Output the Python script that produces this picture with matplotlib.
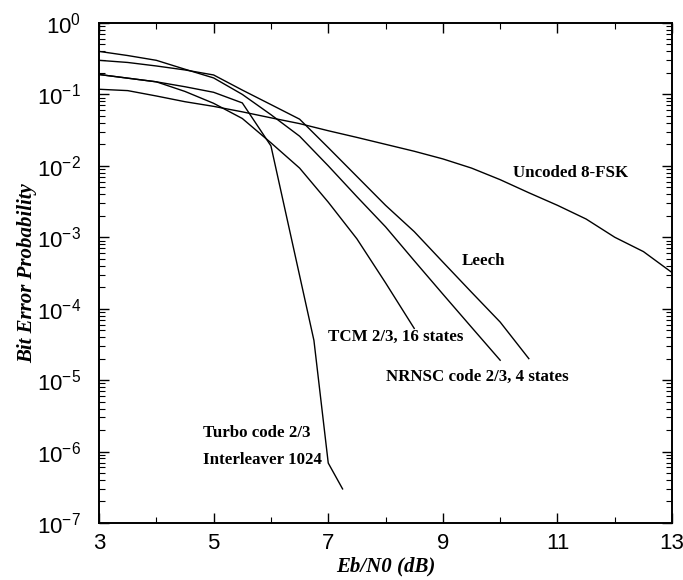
import matplotlib
matplotlib.use("Agg")
import matplotlib.pyplot as plt
from matplotlib.ticker import FixedLocator, NullFormatter, LogFormatterSciNotation

# ---- data (Eb/N0 in dB, bit error probability) ----
uncoded_x = [3.0, 3.5, 4.0, 4.5, 5.0, 5.5, 6.0, 6.5, 7.0, 7.5, 8.0, 8.5, 9.0,
             9.5, 10.0, 10.5, 11.0, 11.5, 12.0, 12.5, 13.0]
uncoded_y = [0.118, 0.113, 0.095, 0.079, 0.068, 0.057, 0.047, 0.039, 0.031,
             0.025, 0.020, 0.016, 0.0125, 0.0093, 0.0064, 0.0042, 0.0028,
             0.0018, 0.0010, 6.3e-4, 3.2e-4]

leech_x = [3.0, 3.5, 4.0, 4.5, 5.0, 5.5, 6.0, 6.5, 7.0, 7.5, 8.0, 8.5, 9.0,
           9.5, 10.0, 10.5]
leech_y = [0.30, 0.28, 0.25, 0.22, 0.187, 0.115, 0.072, 0.045, 0.018, 0.0071,
           0.0028, 0.0012, 4.5e-4, 1.7e-4, 6.5e-5, 2.0e-5]

nrnsc_x = [3.0, 3.5, 4.0, 4.5, 5.0, 5.5, 6.0, 6.5, 7.0, 7.5, 8.0, 8.5, 9.0,
           9.5, 10.0]
nrnsc_y = [0.40, 0.35, 0.30, 0.225, 0.17, 0.10, 0.052, 0.026, 0.010, 0.0037,
           0.0014, 4.7e-4, 1.6e-4, 5.5e-5, 1.9e-5]

tcm_x = [3.0, 4.0, 4.5, 5.0, 5.5, 6.0, 6.5, 7.0, 7.5, 8.0, 8.5]
tcm_y = [0.19, 0.15, 0.11, 0.075, 0.046, 0.021, 0.0093, 0.0031, 9.5e-4,
         2.3e-4, 5.3e-5]

turbo_x = [3.0, 4.0, 4.5, 5.0, 5.5, 6.0, 6.75, 7.0, 7.25]
turbo_y = [0.19, 0.15, 0.128, 0.107, 0.076, 0.019, 3.6e-5, 6.9e-7, 3.0e-7]

x_ticks = [3, 5, 7, 9, 11, 13]
x_minor = [4, 6, 8, 10, 12]
y_ticks = [1e-7, 1e-6, 1e-5, 1e-4, 1e-3, 1e-2, 1e-1, 1e0]
y_minor = [m * d for d in y_ticks[:-1] for m in range(2, 10)]

labels = {
    "Uncoded 8-FSK": (10.22, 0.0079),
    "Leech": (9.33, 4.7e-4),
    "TCM 2/3, 16 states": (7.0, 4.0e-5),
    "NRNSC code 2/3, 4 states": (8.01, 1.1e-5),
    "Turbo code 2/3": (4.815, 1.82e-6),
    "Interleaver 1024": (4.815, 7.6e-7),
}

fig = plt.figure(figsize=(6.83, 5.8), dpi=100)
ax = fig.add_axes([0.145, 0.0983, 0.839, 0.8621])

for xs, ys in [(uncoded_x, uncoded_y), (leech_x, leech_y), (nrnsc_x, nrnsc_y),
               (tcm_x, tcm_y), (turbo_x, turbo_y)]:
    ax.plot(xs, ys, color="black", lw=1.0)

ax.set_yscale("log")
ax.set_xlim(3, 13)
ax.set_ylim(1e-7, 1)
ax.xaxis.set_major_locator(FixedLocator(x_ticks))
ax.xaxis.set_minor_locator(FixedLocator(x_minor))
ax.yaxis.set_major_locator(FixedLocator(y_ticks))
ax.yaxis.set_major_formatter(LogFormatterSciNotation())
ax.yaxis.set_minor_locator(FixedLocator(y_minor))
ax.yaxis.set_minor_formatter(NullFormatter())
ax.xaxis.set_minor_formatter(NullFormatter())

ax.tick_params(which="both", direction="in", top=True, right=True,
               labelsize=16)
ax.tick_params(axis="x", which="both", pad=7)
ax.tick_params(axis="y", which="both", pad=13)
ax.tick_params(which="major", length=7, width=1.0)
ax.tick_params(which="minor", length=4, width=0.8)
for lab in ax.get_xticklabels() + ax.get_yticklabels():
    lab.set_fontfamily("Liberation Sans")
for s in ax.spines.values():
    s.set_linewidth(1.4)

serif_bold = dict(family="Liberation Serif", fontweight="bold", fontsize=12.2)
for txt, (x, y) in labels.items():
    ax.text(x, y, txt, ha="left", va="center", **serif_bold)

ax.set_xlabel("Eb/N0 (dB)", family="Liberation Serif", fontweight="bold",
              fontstyle="italic", fontsize=15, labelpad=2)
ax.set_ylabel("Bit Error Probability", family="Liberation Serif",
              fontweight="bold", fontstyle="italic", fontsize=15)
ax.yaxis.set_label_coords(-0.108, 0.5)

fig.savefig("out.png", dpi=100)
